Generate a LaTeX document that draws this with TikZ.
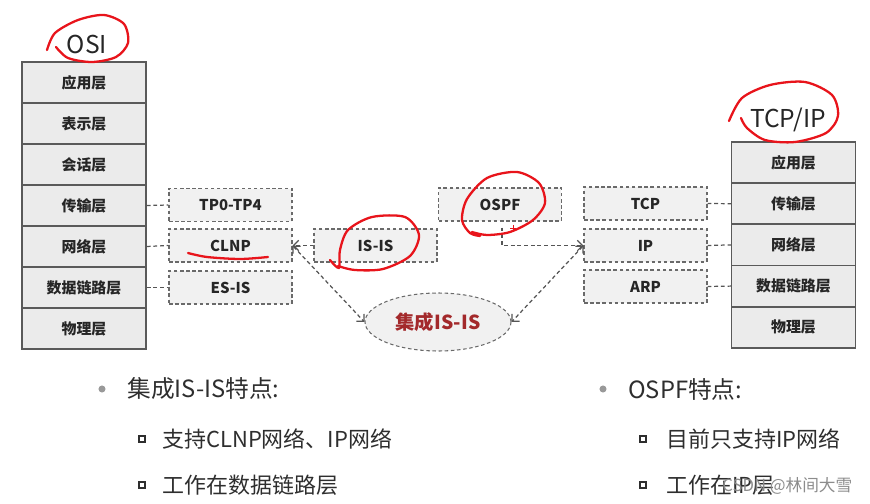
\documentclass[tikz,border=0pt]{standalone}
\usepackage{fontspec}
\setmainfont{Noto Sans CJK SC}
\usepackage{xcolor}
\usetikzlibrary{arrows.meta, positioning, shapes.geometric}
\definecolor{layerfill}{HTML}{EBEBEB}
\definecolor{layerline}{HTML}{5A5A5A}
\definecolor{protofill}{HTML}{F1F1F1}
\definecolor{protoline}{HTML}{6A6A6A}
\definecolor{linkgray}{HTML}{555555}
\definecolor{bodytext}{HTML}{2E2E2E}
\definecolor{integred}{HTML}{A3292B}
\definecolor{pen}{HTML}{E8141B}

\begin{document}
\begin{tikzpicture}[x=0.02cm, y=-0.02cm, font=\bfseries\fontsize{8.5}{10}\selectfont,
  layer/.style={draw=layerline, fill=layerfill, line width=0.8pt, minimum width=2.48cm, minimum height=0.82cm, inner sep=0pt, text=black!85},
  proto/.style={draw=protoline, fill=protofill, dash pattern=on 2pt off 1.5pt, line width=0.6pt, minimum width=2.46cm, minimum height=0.66cm, inner sep=0pt, text=black!85},
  link/.style={draw=linkgray, dash pattern=on 2.2pt off 1.6pt, line width=0.7pt},
  tip/.style={-{Straight Barb[length=3pt,width=6pt]}},
  tips/.style={{Straight Barb[length=3pt,width=6pt]}-{Straight Barb[length=3pt,width=6pt]}},
  stacklabel/.style={font=\fontsize{14}{16}\selectfont, text=black!85},
  feat/.style={font=\fontsize{13.5}{16}\selectfont, text=bodytext, anchor=west, inner sep=0pt},
  subfeat/.style={font=\fontsize{12.5}{15}\selectfont, text=bodytext, anchor=west, inner sep=0pt},
  hand/.style={pen, line width=1.3pt, line cap=round, line join=round}]
  \useasboundingbox (0,0) rectangle (870,504);

  % OSI stack
  \node[stacklabel] (osilabel) at (87,44) {OSI};
  \foreach \t [count=\i] in {应用层,表示层,会话层,传输层,网络层,数据链路层,物理层}
    \node[layer] (osi\i) at (84,{82.5+41*(\i-1)}) {\t};

  % TCP/IP stack
  \node[stacklabel] (tcplabel) at (788,120) {TCP/IP};
  \foreach \t [count=\i] in {应用层,传输层,网络层,数据链路层,物理层}
    \node[layer] (tcp\i) at (793.5,{162.5+41.2*(\i-1)}) {\t};

  % Protocols
  \node[proto] (tp) at (230.5,205) {TP0-TP4};
  \node[proto] (clnp) at (230.5,245.5) {CLNP};
  \node[proto] (esis) at (230.5,287.5) {ES-IS};
  \node[proto] (isis) at (375.5,245.5) {IS-IS};
  \node[proto] (ospf) at (500,204.5) {OSPF};
  \node[proto] (tcpp) at (645.5,203.5) {TCP};
  \node[proto] (ipp) at (645.5,245.5) {IP};
  \node[proto] (arp) at (645.5,286.5) {ARP};
  \node[ellipse, draw=protoline, fill=protofill, dash pattern=on 2pt off 1.5pt, line width=0.6pt,
    minimum width=2.92cm, minimum height=1.16cm, text=integred, font=\bfseries\fontsize{11}{13}\selectfont]
    (integ) at (438,322) {集成IS-IS};

  % Links
  \draw[link] (osi4.east) -- (tp.west);
  \draw[link] (osi5.east) -- (clnp.west);
  \draw[link] (osi6.east) -- (esis.west);
  \draw[link] (tcpp.east) -- (tcp2.west);
  \draw[link] (ipp.east) -- (tcp3.west);
  \draw[link] (arp.east) -- (tcp4.west);
  \draw[link, tip] (isis.west) -- (clnp.east);
  \draw[link, tips] (clnp.east) -- (integ.west);
  \draw[link, tip] ([shift={(2,6)}]ospf.south) |- (ipp.west);
  \draw[link, tips] (ipp.west) -- (integ.east);

  % Features
  \fill[black!40] (102,389) circle (2pt);
  \node[feat] (isisfeat) at (127,389) {集成IS-IS特点:};
  \draw[bodytext, line width=0.6pt] (139,436) rectangle (145,442);
  \node[subfeat] (isisf1) at (162,439) {支持CLNP网络、IP网络};
  \draw[bodytext, line width=0.6pt] (139,482) rectangle (145,488);
  \node[subfeat] (isisf2) at (162,485) {工作在数据链路层};
  \fill[black!40] (603,389) circle (2pt);
  \node[feat] (ospffeat) at (628,389) {OSPF特点:};
  \draw[bodytext, line width=0.6pt] (640,436) rectangle (646,442);
  \node[subfeat] (ospff1) at (666,439) {目前只支持IP网络};
  \draw[bodytext, line width=0.6pt] (640,482) rectangle (646,488);
  \node[subfeat] (ospff2) at (666,485) {工作在IP层};
  \node[font=\fontsize{9.5}{11}\selectfont, text=black!45, anchor=west, inner sep=0pt] (mark) at (722,486) {CSDN @林间大雪};

  % Pen marks
  \draw[hand] plot[smooth] coordinates {(47,50) (55,33) (78,20) (104,15) (124,24) (128,43) (116,57) (92,62) (68,58) (56,47)};
  \draw[hand] plot[smooth] coordinates {(729,121) (742,98) (770,85) (805,82) (832,95) (838,116) (826,133) (795,142) (765,140) (747,128) (741,118)};
  \draw[hand] plot[smooth] coordinates {(330,260) (339,268) (340,250) (348,230) (372,217) (405,217) (419,235) (410,256) (383,269) (355,270) (338,266)};
  \draw[hand] plot[smooth] coordinates {(480,236) (470,233) (462,220) (467,199) (487,178) (517,172) (539,183) (545,203) (533,220) (510,232) (487,235) (472,232)};
  \draw[hand] plot[smooth] coordinates {(188,253) (207,257) (240,259) (268,257)};
  \draw[pen, line width=0.5pt] (510,228) -- (516,228) (513,225) -- (513,231);
\end{tikzpicture}
\end{document}
